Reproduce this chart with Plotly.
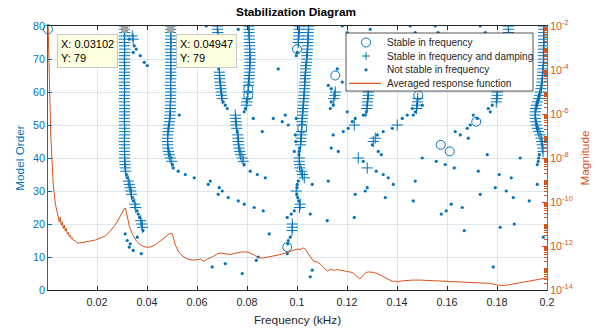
import plotly.graph_objects as go

BLUE = "#0072BD"
ORANGE = "#D95319"
DARK = "#262626"
FONT = "Liberation Sans, Arial, sans-serif"

# ---------------- data ----------------
# Stable in frequency (circles)
circle_freq = [0.0004, 0.1000, 0.0805, 0.0805, 0.1153, 0.1021, 0.1485, 0.1717, 0.1575, 0.1611, 0.0961]
circle_order = [79, 73, 61, 59, 65, 49, 59, 51, 44, 42, 13]

# Stable in frequency and damping (+), per mode
plus_a_order = list(range(80, 37, -1)) + [37, 36, 33, 32, 31, 30, 29, 26, 25, 21, 20, 19]
plus_a_freq = [0.0310, 0.0310, 0.0311, 0.0310, 0.0309, 0.0310, 0.0310, 0.0311, 0.0310, 0.0310,
               0.0309, 0.0310, 0.0310, 0.0311, 0.0310, 0.0310, 0.0309, 0.0310, 0.0310, 0.0311,
               0.0310, 0.0310, 0.0309, 0.0310, 0.0310, 0.0310, 0.0311, 0.0310, 0.0309, 0.0310,
               0.0310, 0.0310, 0.0311, 0.0310, 0.0310, 0.0309, 0.0310, 0.0310, 0.0310, 0.0311,
               0.0310, 0.0311, 0.0312,
               0.0313, 0.0315, 0.0325, 0.0329, 0.0332, 0.0335, 0.0338, 0.0351, 0.0355, 0.0375, 0.0379, 0.0382]

plus_b_order = list(range(80, 38, -1))
plus_b_freq = [0.0495, 0.0495, 0.0494, 0.0495, 0.0495, 0.0496, 0.0495, 0.0494, 0.0495, 0.0495,
               0.0494, 0.0495, 0.0495, 0.0494, 0.0495, 0.0496, 0.0495, 0.0494, 0.0494, 0.0495,
               0.0495, 0.0494, 0.0495, 0.0494, 0.0493, 0.0494, 0.0493, 0.0492, 0.0491, 0.0490,
               0.0488, 0.0486, 0.0484, 0.0483, 0.0482, 0.0482, 0.0483, 0.0484, 0.0486, 0.0489,
               0.0493, 0.0499]

plus_c_order = [80, 79, 78, 77, 66, 65, 64, 63, 62, 61, 60, 59, 58]
plus_c_freq = [0.0681, 0.0682, 0.0683, 0.0684, 0.0689, 0.0690, 0.0691, 0.0692, 0.0694, 0.0695, 0.0697, 0.0698, 0.0701]

plus_d_order = list(range(80, 62, -1)) + [62, 60, 58, 57, 56,
                                          53, 52, 51, 50, 49, 47, 46, 45, 44, 43, 42, 41, 40, 39]
plus_d_freq = [0.0807, 0.0808, 0.0808, 0.0809, 0.0809, 0.0810, 0.0810, 0.0811, 0.0811, 0.0812,
               0.0812, 0.0812, 0.0811, 0.0811, 0.0810, 0.0809, 0.0808, 0.0807,
               0.0806, 0.0804, 0.0801, 0.0799, 0.0797,
               0.0753, 0.0754, 0.0756, 0.0757, 0.0759, 0.0763, 0.0764, 0.0765, 0.0766, 0.0768,
               0.0771, 0.0775, 0.0780, 0.0785]

plus_e_order = [80, 79, 78, 77, 76, 75] + list(range(80, 53, -1)) + \
               [53, 52, 51, 50, 48, 47, 46, 45, 44, 40, 39, 38, 37, 36, 35, 34, 30, 26, 25, 20, 19, 18]
plus_e_freq = [0.1009, 0.1009, 0.1008, 0.1007, 0.1006, 0.1005,
               0.1047, 0.1046, 0.1045, 0.1045, 0.1044, 0.1043, 0.1043, 0.1042, 0.1041, 0.1040, 0.1039, 0.1038,
               0.1036, 0.1035, 0.1034, 0.1033, 0.1032, 0.1031, 0.1031, 0.1030, 0.1029, 0.1028, 0.1027,
               0.1026, 0.1025, 0.1024, 0.1023,
               0.1022, 0.1021, 0.1020, 0.1020, 0.1018, 0.1017, 0.1016, 0.1015, 0.1014,
               0.1009, 0.1009, 0.1010, 0.1012, 0.1017, 0.1022, 0.1029, 0.0997, 0.1013, 0.1010,
               0.0981, 0.0982, 0.0980]

plus_k_order = list(range(80, 41, -1))
plus_k_freq = [0.1987, 0.1988, 0.1987, 0.1986, 0.1987, 0.1988, 0.1987, 0.1986, 0.1985, 0.1986,
               0.1987, 0.1986, 0.1985, 0.1984, 0.1983, 0.1982, 0.1981, 0.1980, 0.1978, 0.1976,
               0.1973, 0.1970, 0.1966, 0.1962,
               0.1958, 0.1955, 0.1953, 0.1952, 0.1953, 0.1955, 0.1958, 0.1962,
               0.1967, 0.1972, 0.1976, 0.1979, 0.1981, 0.1983, 0.1984]

plus_misc_order = [60, 59, 58, 60, 59, 58, 57, 56, 55, 58, 57, 56, 55, 60, 59, 58, 57,
                   80, 79, 78, 77, 77, 76, 50, 45, 46, 50, 40, 37]
plus_misc_freq = [0.1153, 0.1151, 0.1147, 0.1285, 0.1285, 0.1283, 0.1282, 0.1281, 0.1279,
                  0.1483, 0.1482, 0.1480, 0.1478, 0.1801, 0.1801, 0.1799, 0.1797,
                  0.1845, 0.1846, 0.1846, 0.1847, 0.0341, 0.0345, 0.1229, 0.1305, 0.1313,
                  0.1401, 0.1245, 0.1281]

# Not stable in frequency (dots)
dot_freq = [0.0318, 0.0321, 0.0342, 0.0346, 0.0360, 0.0365, 0.0370, 0.0384, 0.0313, 0.0321,
            0.0333, 0.0329, 0.0345, 0.0361, 0.0377, 0.0329, 0.0349, 0.0357, 0.0345, 0.0373,
            0.0389, 0.0401,
            0.0502, 0.0505, 0.0525, 0.0553, 0.0589, 0.0529,
            0.0687, 0.0705, 0.0713, 0.0721, 0.0637,
            0.0793, 0.0789, 0.0761, 0.0789, 0.0813, 0.0841, 0.0873, 0.0765,
            0.0653, 0.0645, 0.0689, 0.0701, 0.0685, 0.0725, 0.0765, 0.0789, 0.0829, 0.0865,
            0.0889, 0.0661, 0.0713, 0.0781, 0.0837, 0.0845,
            0.0925, 0.0825, 0.0861, 0.0905, 0.0941, 0.0953, 0.0965,
            0.1001, 0.0997, 0.1010, 0.1009, 0.1008, 0.1005, 0.1001, 0.1000, 0.0999, 0.1003,
            0.1007, 0.0989, 0.0977, 0.0961, 0.0973, 0.0965, 0.0963, 0.0961, 0.0997, 0.0993,
            0.0995, 0.0989,
            0.1061, 0.1125, 0.1053, 0.1121, 0.1061, 0.1053,
            0.1161, 0.1181, 0.1125, 0.1137, 0.1137, 0.1145, 0.1133, 0.1181, 0.1201,
            0.1277, 0.1273,
            0.1137, 0.1165, 0.1145, 0.1185, 0.1205, 0.1221, 0.1233, 0.1201, 0.1265,
            0.1321, 0.1301, 0.1325, 0.1337, 0.1345, 0.1381, 0.1421, 0.1441, 0.1461, 0.1501,
            0.1265, 0.1317, 0.1345, 0.1365, 0.1385, 0.1233, 0.1273, 0.1281, 0.1229, 0.1353,
            0.1465, 0.1473,
            0.1473, 0.1465,
            0.1781, 0.1765, 0.1773, 0.1721, 0.1705, 0.1693, 0.1681, 0.1633, 0.1653, 0.1685,
            0.1761, 0.1893, 0.1557,
            0.1969, 0.1967, 0.1965, 0.1961, 0.1961, 0.1985,
            0.1501, 0.1593, 0.1629, 0.1725, 0.1809, 0.1857, 0.1793, 0.1837, 0.1865, 0.1929,
            0.1733, 0.1617, 0.1661, 0.1597, 0.1577, 0.1669, 0.1813, 0.1869, 0.1785,
            0.1293, 0.1453, 0.1473, 0.1553, 0.1565, 0.1733, 0.1753]
dot_order = [35, 34, 28, 27, 24, 23, 22, 18, 17, 15,
             14, 13, 12, 16, 11, 76, 74, 73, 72, 71,
             69, 68,
             38, 37, 36, 35, 34, 53,
             67, 57, 56, 55, 80,
             55, 54, 48, 38, 36, 35, 34, 79,
             33, 32, 31, 30, 29, 28, 27, 26, 25, 24,
             17, 7, 8, 5, 9, 10,
             67, 52, 48, 52, 51, 53, 50,
             72, 71, 43, 42, 41, 33, 32, 31, 29, 28,
             27, 24, 23, 22, 16, 15, 14, 11, 52, 47,
             45, 42,
             32, 33, 23, 21, 6, 4,
             67, 63, 62, 61, 57, 56, 55, 80, 78,
             54, 53,
             43, 42, 47, 48, 49, 51, 52, 54, 53,
             47, 44, 42, 41, 48, 49, 52, 53, 55, 56,
             39, 36, 35, 34, 32, 29, 30, 31, 22, 28,
             27, 33,
             54, 53,
             56, 55, 54, 52, 53, 50, 49, 48, 47, 46,
             41, 40, 39,
             41, 40, 39, 38, 32, 16,
             40, 38, 37, 36, 35, 34, 31, 30, 28, 27,
             29, 26, 25, 24, 23, 18, 19, 20, 7,
             79, 80, 78, 80, 78, 80, 78]

# Averaged response function (frequency in kHz, log10 of magnitude)
resp_freq = [0.0004, 0.0007, 0.0011, 0.0015, 0.0020, 0.0025, 0.0033, 0.0041, 0.0045,
             0.0049, 0.0053, 0.0057, 0.0061, 0.0065, 0.0069, 0.0073, 0.0077, 0.0081, 0.0085,
             0.0089, 0.0093, 0.0097, 0.0101, 0.0105, 0.0113, 0.0121, 0.0133, 0.0153, 0.0173,
             0.0193, 0.0213, 0.0233, 0.0253, 0.0273, 0.0289, 0.0301, 0.0309, 0.0313, 0.0317,
             0.0321, 0.0329, 0.0341, 0.0357, 0.0373, 0.0393, 0.0413, 0.0433, 0.0453, 0.0473,
             0.0489, 0.0499, 0.0505, 0.0513, 0.0525, 0.0541, 0.0561, 0.0581, 0.0601, 0.0609,
             0.0615, 0.0621, 0.0629, 0.0641, 0.0661, 0.0681, 0.0693, 0.0713, 0.0733, 0.0757,
             0.0777, 0.0797, 0.0813, 0.0829, 0.0845, 0.0861, 0.0877, 0.0901, 0.0925, 0.0949,
             0.0973, 0.0989, 0.1001, 0.1013, 0.1025, 0.1033, 0.1041, 0.1053, 0.1065, 0.1081,
             0.1093, 0.1109, 0.1121, 0.1129, 0.1137, 0.1149, 0.1161, 0.1173, 0.1185, 0.1197,
             0.1213, 0.1225, 0.1237, 0.1249, 0.1257, 0.1265, 0.1277, 0.1289, 0.1305, 0.1321,
             0.1337, 0.1353, 0.1369, 0.1381, 0.1393, 0.1405, 0.1417, 0.1437, 0.1461, 0.1493,
             0.1533, 0.1573, 0.1613, 0.1653, 0.1693, 0.1733, 0.1773, 0.1801, 0.1825, 0.1853,
             0.1885, 0.1917, 0.1949, 0.1973, 0.1993, 0.2000]
resp_log = [-1.8, -3.55, -5.36, -6.95, -8.09, -9.23, -10.05, -10.5, -10.73,
            -10.91, -10.7, -11.05, -10.9, -11.2, -11.05, -11.32, -11.2, -11.45, -11.38,
            -11.57, -11.5, -11.66, -11.62, -11.73, -11.77, -11.86, -11.86, -11.82, -11.77,
            -11.73, -11.64, -11.55, -11.32, -11.05, -10.73, -10.45, -10.3, -10.27, -10.41,
            -10.64, -11.09, -11.45, -11.77, -11.95, -12.05, -12.05, -11.95, -11.77, -11.59,
            -11.45, -11.43, -11.59, -11.95, -12.23, -12.45, -12.59, -12.64, -12.64, -12.61,
            -12.57, -12.68, -12.68, -12.59, -12.5, -12.36, -12.32, -12.36, -12.39, -12.32,
            -12.27, -12.27, -12.32, -12.41, -12.52, -12.55, -12.52, -12.45, -12.41, -12.34,
            -12.25, -12.18, -12.14, -12.16, -12.09, -12.14, -12.27, -12.5, -12.68, -12.73,
            -12.82, -13.0, -13.14, -13.09, -13.05, -13.11, -13.07, -13.11, -13.11, -13.16,
            -13.18, -13.23, -13.34, -13.48, -13.45, -13.32, -13.2, -13.18, -13.2, -13.25,
            -13.34, -13.45, -13.55, -13.61, -13.59, -13.64, -13.59, -13.57, -13.55, -13.55,
            -13.57, -13.59, -13.64, -13.66, -13.68, -13.68, -13.7, -13.77, -13.8, -13.75,
            -13.68, -13.61, -13.55, -13.5, -13.45, -13.45]

# Data tips
tip_freq = [0.03102, 0.04947]
tip_order = [79, 79]

x_ticks = [0.02, 0.04, 0.06, 0.08, 0.1, 0.12, 0.14, 0.16, 0.18, 0.2]
x_ticktext = ["0.02", "0.04", "0.06", "0.08", "0.1", "0.12", "0.14", "0.16", "0.18", "0.2"]
y_ticks = [0, 10, 20, 30, 40, 50, 60, 70, 80]
mag_exps = [-14, -12, -10, -8, -6, -4, -2]

legend_labels = ["Stable in frequency", "Stable in frequency and damping",
                 "Not stable in frequency", "Averaged response function"]

# ---------------- figure ----------------
W, H = 598, 329
PL, PR, PT, PB = 48, 547, 26, 290


def pxx(x):
    return (x - PL) / (PR - PL)


def pxy(y):
    return (PB - y) / (PB - PT)


plus_freq = plus_a_freq + plus_b_freq + plus_c_freq + plus_d_freq + plus_e_freq + plus_k_freq + plus_misc_freq
plus_order = plus_a_order + plus_b_order + plus_c_order + plus_d_order + plus_e_order + plus_k_order + plus_misc_order

fig = go.Figure()
fig.add_trace(go.Scatter(x=circle_freq, y=circle_order, mode="markers", name=legend_labels[0],
                         marker=dict(symbol="circle-open", size=9, color=BLUE, line=dict(width=1, color=BLUE)),
                         cliponaxis=False, showlegend=False))
fig.add_trace(go.Scatter(x=plus_freq, y=plus_order, mode="markers", name=legend_labels[1],
                         marker=dict(symbol="cross-thin-open", size=8, color=BLUE, line=dict(width=1, color=BLUE)),
                         showlegend=False))
fig.add_trace(go.Scatter(x=dot_freq, y=dot_order, mode="markers", name=legend_labels[2],
                         marker=dict(symbol="circle", size=3.2, color=BLUE, line=dict(width=0)),
                         showlegend=False))
fig.add_trace(go.Scatter(x=tip_freq, y=tip_order, mode="markers", showlegend=False,
                         marker=dict(symbol="square", size=7, color="#A3A3A3", line=dict(width=0)),
                         cliponaxis=False))
fig.add_trace(go.Scatter(x=resp_freq, y=[10 ** v for v in resp_log], mode="lines", name=legend_labels[3],
                         yaxis="y2", line=dict(color=ORANGE, width=1), showlegend=False))

minor_vals = []
for k in range(-14, -2):
    for m in range(1, 10):
        if m == 1 and k % 2 == 0:
            continue
        minor_vals.append(m * 10.0 ** k)

fig.update_layout(
    width=W, height=H,
    margin=dict(l=PL, r=W - PR, t=PT, b=H - PB, pad=0, autoexpand=False),
    paper_bgcolor="white", plot_bgcolor="white",
    font=dict(family=FONT, size=10.7, color=DARK),
    showlegend=False,
    title=dict(text="<b>Stabilization Diagram</b>", x=pxx(296), xref="paper", xanchor="center",
               y=1 - 12 / H, yref="container", yanchor="middle", automargin=False,
               font=dict(size=11.8, color="black", family=FONT)),
    xaxis=dict(range=[0.0004, 0.2], tickvals=x_ticks, ticktext=x_ticktext, automargin=False,
               showgrid=True, gridcolor="#E3E3E3", gridwidth=1, zeroline=False,
               showline=True, linecolor=DARK, linewidth=1, mirror="ticks",
               ticks="inside", ticklen=4, tickcolor=DARK, tickfont=dict(size=10.7, color=DARK),
               ticklabelstandoff=2,
               title=dict(text="Frequency (kHz)", font=dict(size=11.8, color=DARK), standoff=8)),
    yaxis=dict(range=[0, 80], tickvals=y_ticks, showgrid=True, gridcolor="#DCE7F0", gridwidth=1,
               automargin=False, zeroline=False, showline=True, linecolor=BLUE, linewidth=1,
               ticks="inside", ticklen=4, tickcolor=BLUE, tickfont=dict(size=10.7, color=BLUE),
               title=dict(text="Model Order", font=dict(size=11.8, color=BLUE), standoff=5)),
    yaxis2=dict(type="log", range=[-14, -2], overlaying="y", side="right", automargin=False,
                tickvals=[10.0 ** e for e in mag_exps],
                ticktext=["10<sup>%d</sup>" % e for e in mag_exps],
                showgrid=False, zeroline=False, showline=True, linecolor=ORANGE, linewidth=1,
                ticks="inside", ticklen=5, tickcolor=ORANGE, tickfont=dict(size=10.7, color=ORANGE),
                minor=dict(tickvals=minor_vals, ticks="inside", ticklen=3, tickcolor=ORANGE, showgrid=False),
                title=dict(text="Magnitude", font=dict(size=11.8, color=ORANGE), standoff=8)),
)

# manual legend box (compact like the original)
LX0, LX1, LY0, LY1 = 346, 533, 33, 91
shapes = [dict(type="rect", xref="paper", yref="paper", x0=pxx(LX0), x1=pxx(LX1), y0=pxy(LY1), y1=pxy(LY0),
               line=dict(color=DARK, width=0.8), fillcolor="white", layer="above")]
sx = 366
rows = [42.5, 56, 69.8, 83.3]
shapes.append(dict(type="circle", xref="paper", yref="paper", x0=pxx(sx - 4.5), x1=pxx(sx + 4.5),
                   y0=pxy(rows[0] + 4.5), y1=pxy(rows[0] - 4.5), line=dict(color=BLUE, width=1), layer="above"))
shapes.append(dict(type="line", xref="paper", yref="paper", x0=pxx(sx - 4), x1=pxx(sx + 4),
                   y0=pxy(rows[1]), y1=pxy(rows[1]), line=dict(color=BLUE, width=1), layer="above"))
shapes.append(dict(type="line", xref="paper", yref="paper", x0=pxx(sx), x1=pxx(sx),
                   y0=pxy(rows[1] - 4), y1=pxy(rows[1] + 4), line=dict(color=BLUE, width=1), layer="above"))
shapes.append(dict(type="circle", xref="paper", yref="paper", x0=pxx(sx - 1.6), x1=pxx(sx + 1.6),
                   y0=pxy(rows[2] + 1.6), y1=pxy(rows[2] - 1.6), line=dict(color=BLUE, width=0),
                   fillcolor=BLUE, layer="above"))
shapes.append(dict(type="line", xref="paper", yref="paper", x0=pxx(349), x1=pxx(381),
                   y0=pxy(rows[3]), y1=pxy(rows[3]), line=dict(color=ORANGE, width=1.2), layer="above"))

annotations = []
for lab, ry in zip(legend_labels, rows):
    annotations.append(dict(text=lab, xref="paper", yref="paper", x=pxx(385), y=pxy(ry),
                            xanchor="left", yanchor="middle", showarrow=False,
                            font=dict(size=10, color=DARK, family=FONT)))

# data tips
annotations.append(dict(text="X: %.5f<br>Y: %d" % (tip_freq[0], tip_order[0]), xref="paper", yref="paper",
                        x=pxx(118), y=pxy(34), xanchor="right", yanchor="top", align="left", showarrow=False,
                        bgcolor="#FFFFE1", bordercolor="#C8C8C8", borderwidth=1, borderpad=3,
                        font=dict(size=11, color="black", family=FONT)))
annotations.append(dict(text="X: %.5f<br>Y: %d" % (tip_freq[1], tip_order[1]), xref="paper", yref="paper",
                        x=pxx(176), y=pxy(34), xanchor="left", yanchor="top", align="left", showarrow=False,
                        bgcolor="#FFFFE1", bordercolor="#C8C8C8", borderwidth=1, borderpad=3,
                        font=dict(size=11, color="black", family=FONT)))

fig.update_layout(shapes=shapes, annotations=annotations)
fig.write_html("out.html", config={"displayModeBar": False},
               post_script="document.body.style.margin='0';document.body.style.overflow='hidden';")
